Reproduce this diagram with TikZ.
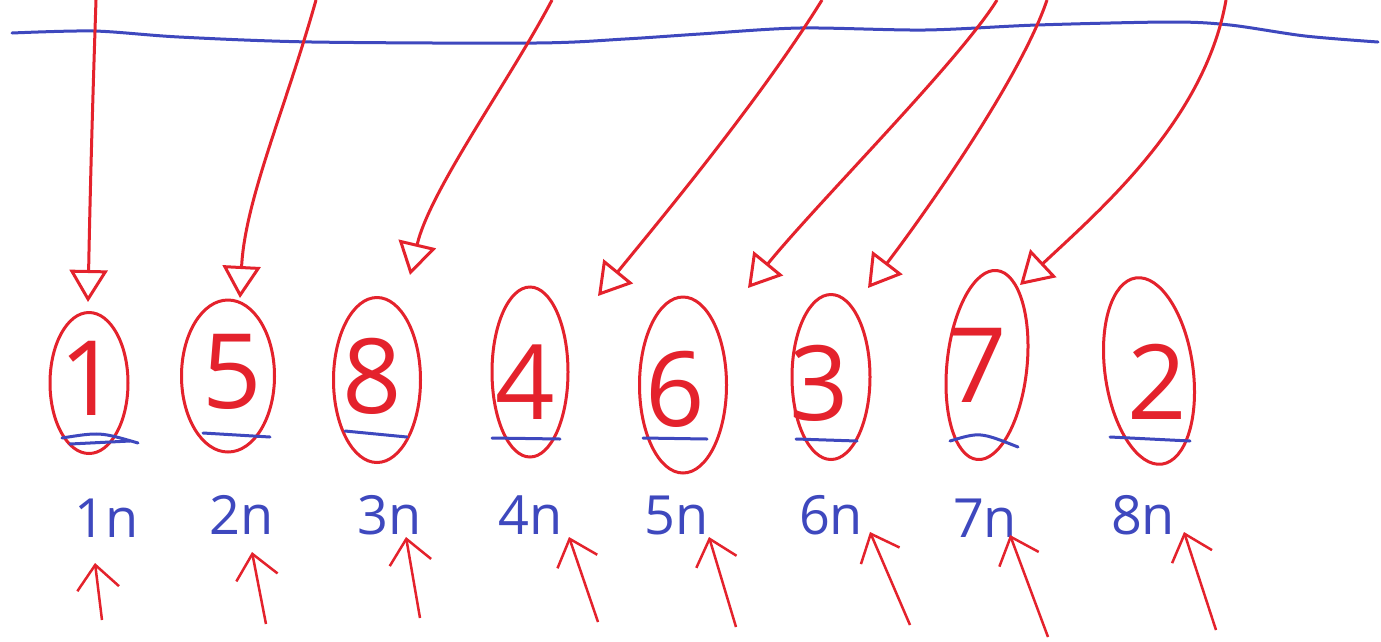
\documentclass[tikz,border=0pt]{standalone}
\usepackage{fontspec}
\setmainfont{Open Sans}
\usetikzlibrary{arrows.meta,shapes.geometric}
\definecolor{penred}{RGB}{228,34,44}
\definecolor{penblue}{RGB}{62,72,190}
\begin{document}
\begin{tikzpicture}[x=1pt,y=-1pt,
 oval/.style={draw=penred, line width=3pt, ellipse, inner sep=0pt},
 digit/.style={text=penred, font=\fontsize{104}{104}\selectfont, inner sep=0pt},
 lab/.style={text=penblue, font=\fontsize{54}{54}\selectfont, inner sep=0pt},
 toparrow/.style={draw=penred, line width=3pt, -{Triangle[open, length=32pt, width=38pt, line width=3pt]}},
 uparrow/.style={draw=penred, line width=2.5pt, -{Straight Barb[length=24pt, width=42pt, line width=2.5pt]}},
 uline/.style={draw=penblue, line width=3pt, line cap=round},
 topline/.style={draw=penblue, line width=3pt, line cap=round}]
\useasboundingbox (0,0) rectangle (1381,641);
\fill[white] (0,0) rectangle (1381,641);
% top blue line
\draw[topline] plot[smooth, tension=0.5] coordinates {(12,33) (94,31) (179,37) (312,42) (536,43) (625,39) (700,34) (800,28) (925,30) (1037,25) (1171,22) (1230,25) (1305,36) (1378,42)};
% ovals
\node[oval, minimum width=78pt, minimum height=141pt] (o1) at (89,383) {};
\node[oval, minimum width=93pt, minimum height=152pt] (o5) at (228,376) {};
\node[oval, minimum width=87pt, minimum height=165pt] (o8) at (377,380) {};
\node[oval, minimum width=76pt, minimum height=170pt] (o4) at (530,372) {};
\node[oval, minimum width=87pt, minimum height=176pt] (o6) at (683,385) {};
\node[oval, minimum width=78pt, minimum height=165pt] (o3) at (831,377) {};
\node[oval, minimum width=80pt, minimum height=190pt, rotate=-6] (o7) at (987,365) {};
\node[oval, minimum width=88pt, minimum height=188pt, rotate=8] (o2) at (1149,371) {};
% digits
\node[digit] (d1) at (89,378) {1};
\node[digit] (d5) at (232,372) {5};
\node[digit] (d8) at (372,376) {8};
\node[digit] (d4) at (525,382) {4};
\node[digit] (d6) at (675,389) {6};
\node[digit] (d3) at (819,383) {3};
\node[digit] (d7) at (977,365) {7};
\node[digit] (d2) at (1157,382) {2};
% underlines
\draw[uline] (62,438) .. controls (100,432) .. (138,443);
\draw[uline] (70,444) -- (130,441);
\draw[uline] (203,433) -- (270,437);
\draw[uline] (345,431) -- (407,437);
\draw[uline] (492,438) -- (560,439);
\draw[uline] (643,438) -- (707,439);
\draw[uline] (796,439) -- (857,441);
\draw[uline] (950,441) .. controls (980,432) .. (1018,447);
\draw[uline] (1110,437) -- (1190,441);
% labels
\node[lab] (l1) at (107,518) {1n};
\node[lab] (l2) at (242,515) {2n};
\node[lab] (l3) at (390,515) {3n};
\node[lab] (l4) at (531,515) {4n};
\node[lab] (l5) at (677,515) {5n};
\node[lab] (l6) at (831,515) {6n};
\node[lab] (l7) at (985,518) {7n};
\node[lab] (l8) at (1143,515) {8n};
% top arrows
\coordinate (s1) at (96,0);   \coordinate (t1) at (88,302);
\coordinate (s2) at (316,0);  \coordinate (t2) at (240,298);
\coordinate (s3) at (552,0);  \coordinate (t3) at (410,275);
\coordinate (s4) at (822,0);  \coordinate (t4) at (598,296);
\coordinate (s5) at (997,0);  \coordinate (t5) at (748,288);
\coordinate (s6) at (1047,0); \coordinate (t6) at (868,288);
\coordinate (s7) at (1226,0); \coordinate (t7) at (1020,285);
\draw[toparrow] (s1) .. controls (92,120) and (90,200) .. (t1);
\draw[toparrow] (s2) .. controls (285,110) and (245,200) .. (t2);
\draw[toparrow] (s3) .. controls (510,80) and (430,190) .. (t3);
\draw[toparrow] (s4) .. controls (760,100) and (660,220) .. (t4);
\draw[toparrow] (s5) .. controls (960,60) and (820,200) .. (t5);
\draw[toparrow] (s6) .. controls (1020,80) and (920,220) .. (t6);
\draw[toparrow] (s7) .. controls (1205,120) and (1100,210) .. (t7);
% bottom arrows
\coordinate (b1) at (102,620);  \coordinate (p1) at (95,563);
\coordinate (b2) at (266,624);  \coordinate (p2) at (252,552);
\coordinate (b3) at (420,618);  \coordinate (p3) at (406,537);
\coordinate (b4) at (598,622);  \coordinate (p4) at (569,537);
\coordinate (b5) at (736,627);  \coordinate (p5) at (709,537);
\coordinate (b6) at (910,625);  \coordinate (p6) at (870,532);
\coordinate (b7) at (1048,637); \coordinate (p7) at (1010,535);
\coordinate (b8) at (1216,630); \coordinate (p8) at (1184,532);
\foreach \i in {1,...,8} \draw[uparrow] (b\i) -- (p\i);
\end{tikzpicture}
\end{document}
